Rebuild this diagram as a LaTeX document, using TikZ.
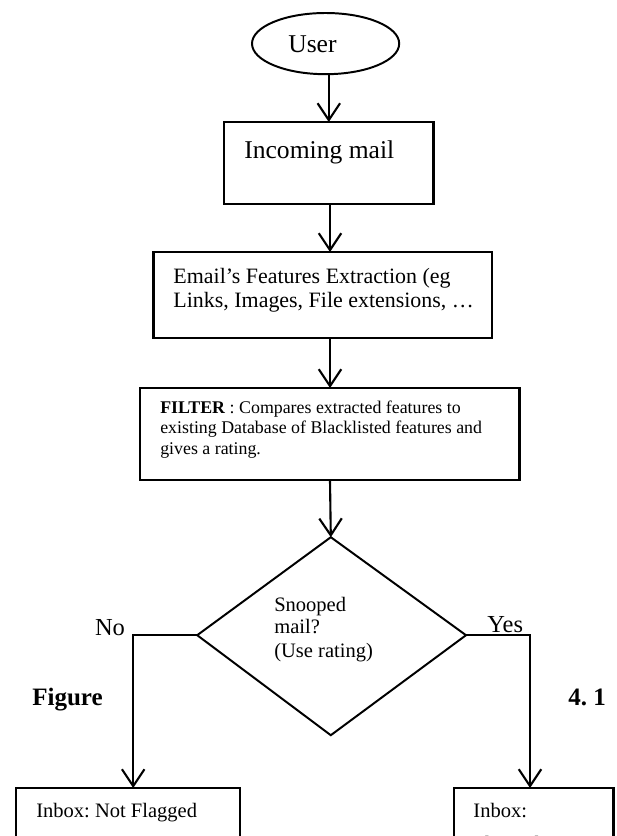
\documentclass[tikz,border=0pt]{standalone}
\usepackage{fontspec}
\setmainfont{Liberation Serif}
\usepackage[svgnames]{xcolor}
\usepackage{tikz}
\usetikzlibrary{arrows.meta,shapes.geometric}
\frenchspacing
\tikzstyle{none}=[inner sep=0pt]
\tikzstyle{lbl}=[inner sep=0pt,anchor=base west,text=Black]
\tikzstyle{terminal}=[draw=Black,ellipse,line width=1.4pt,inner sep=0pt,minimum width=3.68cm,minimum height=1.53cm]
\tikzstyle{frame}=[draw=Black,line width=2pt,line join=miter]
\tikzstyle{thin}=[draw=Black,line width=1.4pt,line join=miter]
\tikzstyle{arrow}=[-{Straight Barb[length=12pt,width=16pt,line width=1.5pt]},draw=Black,line width=1.5pt]
\tikzstyle{head}=[font=\fontsize{18.2pt}{22pt}\selectfont]
\tikzstyle{body}=[font=\fontsize{15.6pt}{19pt}\selectfont]
\tikzstyle{fine}=[font=\fontsize{12.7pt}{15pt}\selectfont]
\tikzstyle{cond}=[font=\fontsize{14.6pt}{17pt}\selectfont]
\tikzstyle{branch}=[font=\fontsize{17.4pt}{21pt}\selectfont]
\tikzstyle{tag}=[font=\fontsize{17.8pt}{21pt}\selectfont\bfseries]

\begin{document}
\begin{tikzpicture}
 \useasboundingbox (0, 0) rectangle (15.4, -20.9);
 \clip (0, 0) rectangle (15.4, -20.9);
 \node [style=terminal] (0) at (8.14, -1.09) {};
 \node [style=lbl, style=head] (1) at (7.2, -1.325) {User};
 \node [style=none] (2) at (8.22, -1.85) {};
 \node [style=none] (3) at (8.22, -3.05) {};
 \node [style=none] (4) at (5.6, -3.05) {};
 \node [style=none] (5) at (10.83, -3.05) {};
 \node [style=none] (6) at (10.83, -5.1) {};
 \node [style=none] (7) at (5.6, -5.1) {};
 \node [style=lbl, style=head] (8) at (6.1, -3.95) {Incoming mail};
 \node [style=none] (9) at (8.25, -5.1) {};
 \node [style=none] (10) at (8.25, -6.3) {};
 \node [style=none] (11) at (3.83, -6.3) {};
 \node [style=none] (12) at (12.3, -6.3) {};
 \node [style=none] (13) at (12.3, -8.45) {};
 \node [style=none] (14) at (3.83, -8.45) {};
 \node [style=lbl, style=body] (15) at (4.33, -7.08) {Email’s Features Extraction (eg};
 \node [style=lbl, style=body] (16) at (4.33, -7.68) {Links, Images, File extensions, …};
 \node [style=none] (17) at (8.25, -8.45) {};
 \node [style=none] (18) at (8.25, -9.7) {};
 \node [style=none] (19) at (3.5, -9.7) {};
 \node [style=none] (20) at (12.98, -9.7) {};
 \node [style=none] (21) at (12.98, -12) {};
 \node [style=none] (22) at (3.5, -12) {};
 \node [style=lbl, style=fine] (23) at (4, -10.33) {\textbf{FILTER} : Compares extracted features to};
 \node [style=lbl, style=fine] (24) at (4, -10.83) {existing Database of Blacklisted features and};
 \node [style=lbl, style=fine] (25) at (4, -11.35) {gives a rating.};
 \node [style=none] (26) at (8.25, -12) {};
 \node [style=none] (27) at (8.27, -13.43) {};
 \node [style=none] (28) at (11.65, -15.88) {};
 \node [style=none] (29) at (8.27, -18.38) {};
 \node [style=none] (30) at (4.93, -15.88) {};
 \node [style=lbl, style=cond] (31) at (6.85, -15.28) {Snooped};
 \node [style=lbl, style=cond] (32) at (6.85, -15.83) {mail?};
 \node [style=lbl, style=cond] (33) at (6.85, -16.43) {(Use rating)};
 \node [style=none] (34) at (3.33, -15.88) {};
 \node [style=none] (35) at (3.33, -19.7) {};
 \node [style=none] (36) at (13.25, -15.88) {};
 \node [style=none] (37) at (13.25, -19.7) {};
 \node [style=lbl, style=branch, anchor=base east] (38) at (3.13, -15.88) {No};
 \node [style=lbl, style=branch] (39) at (12.18, -15.8) {Yes};
 \node [style=lbl, style=tag] (40) at (0.8, -17.63) {Figure};
 \node [style=lbl, style=tag] (41) at (14.2, -17.63) {4. 1};
 \node [style=none] (42) at (0.4, -19.7) {};
 \node [style=none] (43) at (6, -19.7) {};
 \node [style=none] (44) at (6, -21.5) {};
 \node [style=none] (45) at (0.4, -21.5) {};
 \node [style=lbl, style=cond] (46) at (0.9, -20.43) {Inbox: Not Flagged};
 \node [style=none] (47) at (11.35, -19.7) {};
 \node [style=none] (48) at (15.33, -19.7) {};
 \node [style=none] (49) at (15.33, -21.5) {};
 \node [style=none] (50) at (11.35, -21.5) {};
 \node [style=lbl, style=cond] (51) at (11.83, -20.43) {Inbox:};
 \node [style=lbl, style=cond] (52) at (11.83, -21.25) {Flagged};
 \draw [style=arrow] (2.center) to (3.center);
 \draw [style=frame] (4.center) to (5.center) to (6.center) to (7.center) to cycle;
 \draw [style=arrow] (9.center) to (10.center);
 \draw [style=frame] (11.center) to (12.center) to (13.center) to (14.center) to cycle;
 \draw [style=arrow] (17.center) to (18.center);
 \draw [style=frame] (19.center) to (20.center) to (21.center) to (22.center) to cycle;
 \draw [style=arrow] (26.center) to (27.center);
 \draw [style=thin] (27.center) to (28.center) to (29.center) to (30.center) to cycle;
 \draw [style=arrow] (30.center) to (34.center) to (35.center);
 \draw [style=arrow] (28.center) to (36.center) to (37.center);
 \draw [style=frame] (42.center) to (43.center) to (44.center) to (45.center) to cycle;
 \draw [style=frame] (47.center) to (48.center) to (49.center) to (50.center) to cycle;
\end{tikzpicture}
\end{document}
